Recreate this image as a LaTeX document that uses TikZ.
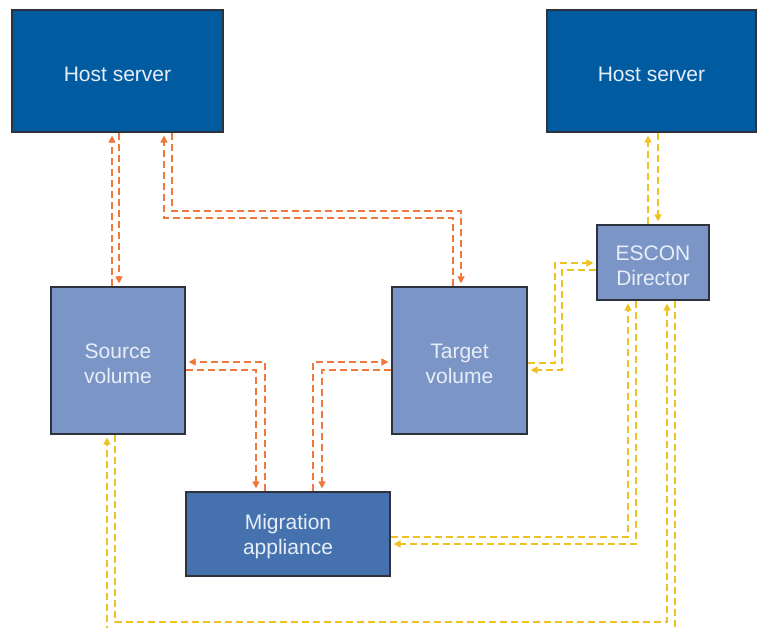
\documentclass[tikz,border=0pt]{standalone}
\usepackage{fontspec}
\setmainfont{Liberation Sans}
\usetikzlibrary{arrows.meta}
\definecolor{hostblue}{RGB}{0,91,160}
\definecolor{volblue}{RGB}{123,150,198}
\definecolor{migblue}{RGB}{69,114,174}
\definecolor{boxline}{RGB}{45,50,60}
\definecolor{txtc}{RGB}{232,238,248}
\definecolor{orangel}{RGB}{240,120,60}
\definecolor{yellowl}{RGB}{238,194,35}
\tikzset{
  box/.style={draw=boxline, line width=1.1pt, rectangle, inner sep=0pt},
  lbl/.style={align=center, text=txtc, font=\fontsize{21}{25}\selectfont, inner sep=0pt, yshift=-3pt},
  link/.style={dash pattern=on 7pt off 4pt, line width=1.5pt,
    -{Triangle[width=7pt,length=7pt]}, shorten >=3pt},
  olink/.style={link, draw=orangel},
  ylink/.style={link, draw=yellowl}
}
\begin{document}
\begin{tikzpicture}[x=1pt,y=-1pt]
\useasboundingbox (0,0) rectangle (757,628);
\clip (0,0) rectangle (757,628);
\node[box, fill=hostblue, minimum width=211pt, minimum height=122pt,
  label={[lbl]center:Host server}] (hostL) at (117.5,71) {};
\node[box, fill=hostblue, minimum width=209pt, minimum height=122pt,
  label={[lbl]center:Host server}] (hostR) at (651.5,71) {};
\node[box, fill=volblue, minimum width=134pt, minimum height=147pt,
  label={[lbl]center:Source\\volume}] (src) at (118,360.5) {};
\node[box, fill=volblue, minimum width=135pt, minimum height=147pt,
  label={[lbl]center:Target\\volume}] (tgt) at (459.5,360.5) {};
\node[box, fill=volblue, minimum width=112pt, minimum height=75pt,
  label={[lbl]center:ESCON\\Director}] (esc) at (653,262.5) {};
\node[box, fill=migblue, minimum width=204pt, minimum height=84pt,
  label={[lbl]center:Migration\\appliance}] (mig) at (288,534) {};
% orange
\draw[olink] (119,0 |- hostL.south) -- (119,0 |- src.north);
\draw[olink] (112,0 |- src.north) -- (112,0 |- hostL.south);
\draw[olink] (172,0 |- hostL.south) -- (172,211) -- (461,211) -- (461,0 |- tgt.north);
\draw[olink] (453,0 |- tgt.north) -- (453,218) -- (164,218) -- (164,0 |- hostL.south);
\draw[olink] (src.east |- 0,370) -- (256,370) -- (256,0 |- mig.north);
\draw[olink] (265,0 |- mig.north) -- (265,362) -- (src.east |- 0,362);
\draw[olink] (313,0 |- mig.north) -- (313,362) -- (tgt.west |- 0,362);
\draw[olink] (tgt.west |- 0,370) -- (322,370) -- (322,0 |- mig.north);
% yellow
\draw[ylink] (658,0 |- hostR.south) -- (658,0 |- esc.north);
\draw[ylink] (648,0 |- esc.north) -- (648,0 |- hostR.south);
\draw[ylink] (tgt.east |- 0,363) -- (555,363) -- (555,263) -- (esc.west |- 0,263);
\draw[ylink] (esc.west |- 0,270) -- (562,270) -- (562,370) -- (tgt.east |- 0,370);
\draw[ylink] (mig.east |- 0,537) -- (628,537) -- (628,0 |- esc.south);
\draw[ylink] (636,0 |- esc.south) -- (636,544) -- (mig.east |- 0,544);
\draw[ylink] (115,0 |- src.south) -- (115,622) -- (667,622) -- (667,0 |- esc.south);
\draw[ylink] (675,0 |- esc.south) -- (675,634) -- (107,634) -- (107,0 |- src.south);
\end{tikzpicture}
\end{document}
